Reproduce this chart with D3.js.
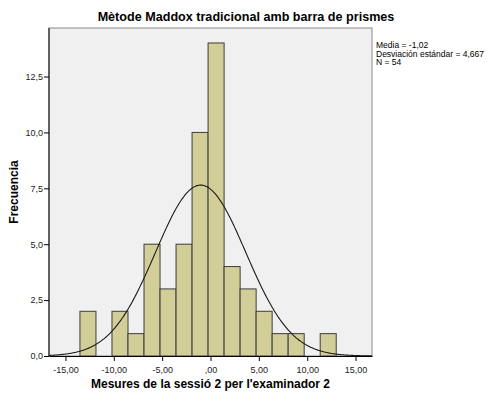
<!DOCTYPE html>
<html>
<head>
<meta charset="utf-8">
<script src="https://cdn.jsdelivr.net/npm/d3@7"></script>
<style>
  html, body { margin: 0; padding: 0; background: #ffffff; }
  svg { display: block; font-family: "Liberation Sans", Arial, sans-serif; }
</style>
</head>
<body>
<svg id="chart" width="492" height="394"></svg>
<script>
// Histogram bins: lower edges and counts (bin width = 1.65625)
const binStart = -13.5;
const binWidth = 1.65625;
const counts = [2, 0, 2, 1, 5, 3, 5, 10, 14, 4, 3, 2, 1, 1, 0, 1];

// Summary statistics for the fitted normal curve
const mean = -1.02;
const stdDev = 4.667;
const n = 54;

const xTicks = [-15, -10, -5, 0, 5, 10, 15];
const xTickLabels = ["-15,00", "-10,00", "-5,00", ",00", "5,00", "10,00", "15,00"];
const yTicks = [0, 2.5, 5, 7.5, 10, 12.5];
const yTickLabels = ["0,0", "2,5", "5,0", "7,5", "10,0", "12,5"];

const statsLines = ["Media = -1,02", "Desviación estándar = 4,667", "N = 54"];

const svg = d3.select("#chart");
const plot = { left: 49, right: 372, top: 28, bottom: 356 };

const x = d3.scaleLinear().domain([-16.7, 16.7]).range([plot.left, plot.right]);
const y = d3.scaleLinear().domain([0, 14.67]).range([plot.bottom, plot.top]);

// Plot background frame
svg.append("rect")
  .attr("x", plot.left).attr("y", plot.top)
  .attr("width", plot.right - plot.left).attr("height", plot.bottom - plot.top)
  .attr("fill", "#f0f0f0").attr("stroke", "#8a8a8a").attr("stroke-width", 1);

// Bars
const bins = counts.map((c, i) => ({ x0: binStart + i * binWidth, x1: binStart + (i + 1) * binWidth, c }));
svg.append("g").selectAll("rect").data(bins.filter(d => d.c > 0)).join("rect")
  .attr("x", d => x(d.x0))
  .attr("y", d => y(d.c))
  .attr("width", d => x(d.x1) - x(d.x0))
  .attr("height", d => y(0) - y(d.c))
  .attr("fill", "#d3ce98")
  .attr("stroke", "#3c3c3c")
  .attr("stroke-width", 1);

// Normal curve scaled to counts
const scale = n * binWidth / (stdDev * Math.sqrt(2 * Math.PI));
const curve = d3.range(-16.7, 16.7001, 0.1).map(v => [v, scale * Math.exp(-0.5 * ((v - mean) / stdDev) ** 2)]);
svg.append("path")
  .datum(curve)
  .attr("fill", "none")
  .attr("stroke", "#1a1a1a")
  .attr("stroke-width", 1.1)
  .attr("d", d3.line().x(d => x(d[0])).y(d => y(d[1])).curve(d3.curveBasis));

// Axes
const xAxis = d3.axisBottom(x).tickValues(xTicks).tickFormat((d, i) => xTickLabels[i]).tickSize(5).tickSizeOuter(0);
const gx = svg.append("g").attr("transform", `translate(0,${plot.bottom})`).call(xAxis);
gx.select(".domain").attr("stroke", "#000");
gx.selectAll(".tick line").attr("stroke", "#000");
gx.selectAll("text").attr("font-size", 9).attr("fill", "#222").attr("dy", "0.95em")
  .attr("font-family", "Liberation Sans, Arial, sans-serif");

const yAxis = d3.axisLeft(y).tickValues(yTicks).tickFormat((d, i) => yTickLabels[i]).tickSize(5).tickSizeOuter(0);
const gy = svg.append("g").attr("transform", `translate(${plot.left},0)`).call(yAxis);
gy.select(".domain").attr("stroke", "#000").attr("d", `M0,${plot.top}V${plot.bottom}`);
gy.selectAll(".tick line").attr("stroke", "#000");
gy.selectAll("text").attr("font-size", 9).attr("fill", "#222").attr("x", -6)
  .attr("font-family", "Liberation Sans, Arial, sans-serif");

// Title
svg.append("text")
  .attr("x", 246).attr("y", 21)
  .attr("text-anchor", "middle")
  .attr("font-size", 12.6).attr("font-weight", "bold").attr("fill", "#000")
  .text("Mètode Maddox tradicional amb barra de prismes");

// Axis titles
svg.append("text")
  .attr("x", (plot.left + plot.right) / 2).attr("y", 388)
  .attr("text-anchor", "middle")
  .attr("font-size", 12).attr("font-weight", "bold").attr("fill", "#000")
  .text("Mesures de la sessió 2 per l'examinador 2");

svg.append("text")
  .attr("transform", `translate(18,${(plot.top + plot.bottom) / 2}) rotate(-90)`)
  .attr("text-anchor", "middle")
  .attr("font-size", 12).attr("font-weight", "bold").attr("fill", "#000")
  .text("Frecuencia");

// Summary statistics block
svg.append("g").selectAll("text").data(statsLines).join("text")
  .attr("x", 376).attr("y", (d, i) => 48 + i * 8.7)
  .attr("font-size", 8.5).attr("fill", "#000")
  .text(d => d);
</script>
</body>
</html>
